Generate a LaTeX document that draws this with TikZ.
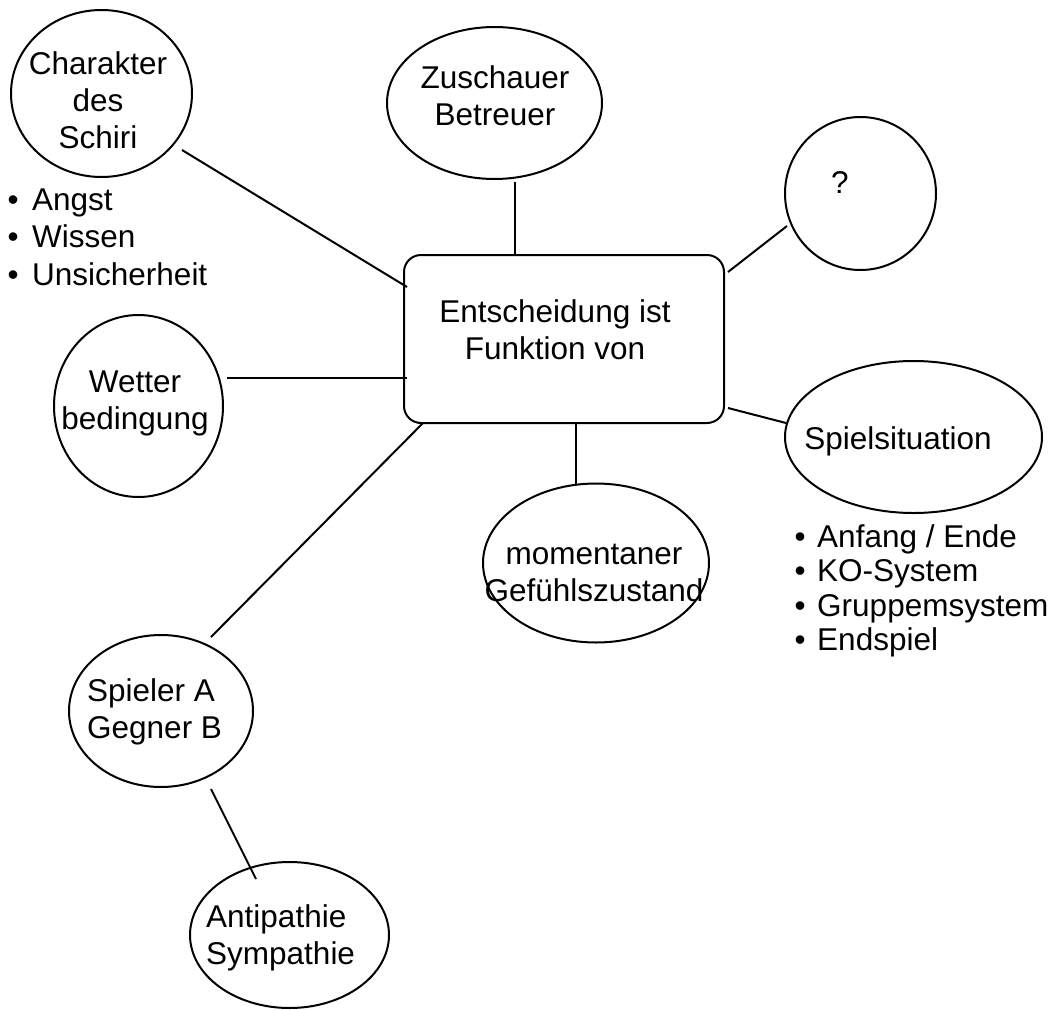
\documentclass[tikz,border=0pt]{standalone}
\usepackage{fontspec}
\setmainfont{Liberation Sans}
\usetikzlibrary{shapes.geometric}
\begin{document}
\begin{tikzpicture}[x=1pt,y=-1pt,
  ell/.style={draw, ellipse, line width=2pt, inner sep=0pt},
  conn/.style={line width=2pt},
  txt/.style={inner sep=0pt, font=\fontsize{31.5}{37}\selectfont},
  ltxt/.style={inner sep=0pt, font=\fontsize{31.5}{37.5}\selectfont},
  rtxt/.style={inner sep=0pt, font=\fontsize{31.5}{34.5}\selectfont}
]
\useasboundingbox (0,0) rectangle (1053,1010);

% central box
\node[draw, rounded corners=17pt, line width=2pt, minimum width=320pt, minimum height=168pt] (box) at (564,339) {};
\node[txt, anchor=base] (boxT) at (555,322) {\begin{tabular}[t]{@{}c@{}}Entscheidung ist\\Funktion von\end{tabular}};

% ellipses
\node[ell, minimum width=181pt, minimum height=167pt] (ch) at (101.5,93.5) {};
\node[txt, anchor=base] (chT) at (98,74) {\begin{tabular}[t]{@{}c@{}}Charakter\\des\\Schiri\end{tabular}};

\node[ell, minimum width=215pt, minimum height=152pt] (zu) at (494.5,103) {};
\node[txt, anchor=base] (zuT) at (495,88) {\begin{tabular}[t]{@{}c@{}}Zuschauer\\Betreuer\end{tabular}};

\node[ell, minimum width=151pt, minimum height=153pt] (q) at (860.5,193.5) {};
\node[txt, anchor=base] (qT) at (840,193) {?};

\node[ell, minimum width=169pt, minimum height=182pt] (we) at (138.5,406) {};
\node[txt, anchor=base] (weT) at (135,392) {\begin{tabular}[t]{@{}c@{}}Wetter\\bedingung\end{tabular}};

\node[ell, minimum width=257pt, minimum height=152pt] (sp) at (913.5,437) {};
\node[txt, anchor=base] (spT) at (898,449) {Spielsituation};

\node[ell, minimum width=226pt, minimum height=159pt] (mo) at (596,563) {};
\node[txt, anchor=base] (moT) at (594,564) {\begin{tabular}[t]{@{}c@{}}momentaner\\Gefühlszustand\end{tabular}};

\node[ell, minimum width=184pt, minimum height=152pt] (pl) at (161,711) {};
\node[txt, anchor=base west] (plT) at (87,701) {\begin{tabular}[t]{@{}l@{}}Spieler A\\Gegner B\end{tabular}};

\node[ell, minimum width=199pt, minimum height=146pt] (an) at (289.5,935) {};
\node[txt, anchor=base west] (anT) at (206,927) {\begin{tabular}[t]{@{}l@{}}Antipathie\\Sympathie\end{tabular}};

% bullet lists
\node[ltxt, anchor=base west] (listL) at (7.5,210) {\begin{tabular}[t]{@{}l@{\hspace{13.5pt}}l@{}}•&Angst\\•&Wissen\\•&Unsicherheit\end{tabular}};
\node[rtxt, anchor=base west] (listR) at (794.5,547) {\begin{tabular}[t]{@{}l@{\hspace{11.5pt}}l@{}}•&Anfang / Ende\\•&KO-System\\•&Gruppemsystem\\•&Endspiel\end{tabular}};

% connector end points
\coordinate (chE) at (182,150);   \coordinate (boxChE) at (407,287);
\coordinate (zuE) at (515,182);   \coordinate (boxZuE) at (515,255);
\coordinate (qE) at (787,226);    \coordinate (boxQE) at (728,272);
\coordinate (weE) at (227,378);   \coordinate (boxWeE) at (407,378);
\coordinate (spE) at (786,423);   \coordinate (boxSpE) at (728,408);
\coordinate (moE) at (576,484);   \coordinate (boxMoE) at (576,423);
\coordinate (plE) at (211,637);   \coordinate (boxPlE) at (423,423);
\coordinate (plAnE) at (211,789); \coordinate (anE) at (256,879);

\draw[conn] (chE) -- (boxChE);
\draw[conn] (zuE) -- (boxZuE);
\draw[conn] (qE) -- (boxQE);
\draw[conn] (weE) -- (boxWeE);
\draw[conn] (spE) -- (boxSpE);
\draw[conn] (moE) -- (boxMoE);
\draw[conn] (plE) -- (boxPlE);
\draw[conn] (plAnE) -- (anE);
\end{tikzpicture}
\end{document}
